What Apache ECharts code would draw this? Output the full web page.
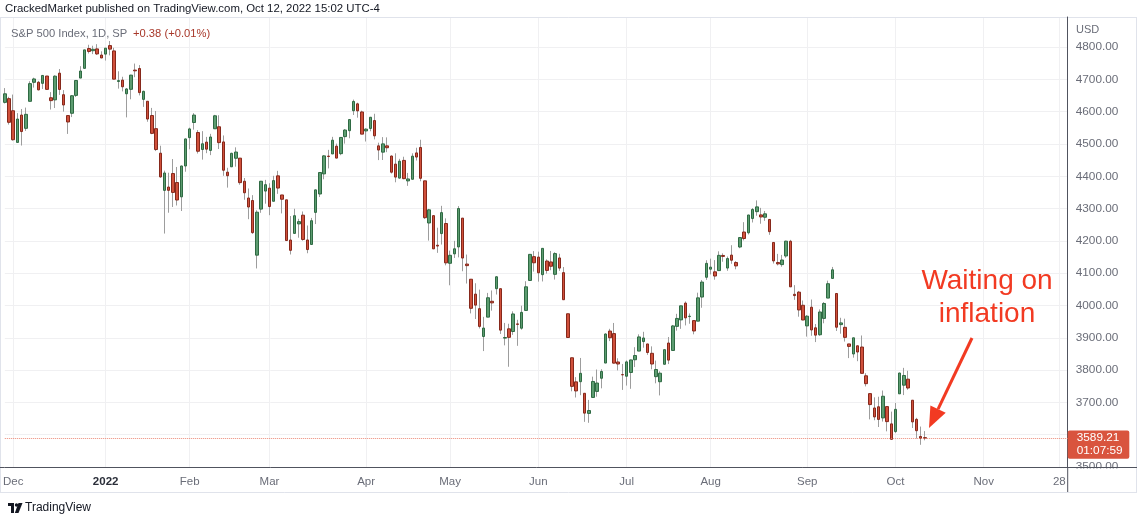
<!DOCTYPE html>
<html><head><meta charset="utf-8">
<script src="https://cdn.jsdelivr.net/npm/echarts@6/dist/echarts.min.js"></script>
<style>html,body{margin:0;padding:0;background:#fff}#c{width:1137px;height:517px}</style>
</head><body><div id="c"></div>
<script>
// ---- categories (trading days with data) ----
const dates = [
'2021-11-29','2021-11-30',
'2021-12-01','2021-12-02','2021-12-03','2021-12-06','2021-12-07','2021-12-08','2021-12-09','2021-12-10','2021-12-13','2021-12-14','2021-12-15','2021-12-16','2021-12-17','2021-12-20','2021-12-21','2021-12-22','2021-12-23','2021-12-27','2021-12-28','2021-12-29','2021-12-30','2021-12-31',
'2022-01-03','2022-01-04','2022-01-05','2022-01-06','2022-01-07','2022-01-10','2022-01-11','2022-01-12','2022-01-13','2022-01-14','2022-01-18','2022-01-19','2022-01-20','2022-01-21','2022-01-24','2022-01-25','2022-01-26','2022-01-27','2022-01-28','2022-01-31',
'2022-02-01','2022-02-02','2022-02-03','2022-02-04','2022-02-07','2022-02-08','2022-02-09','2022-02-10','2022-02-11','2022-02-14','2022-02-15','2022-02-16','2022-02-17','2022-02-18','2022-02-22','2022-02-23','2022-02-24','2022-02-25','2022-02-28',
'2022-03-01','2022-03-02','2022-03-03','2022-03-04','2022-03-07','2022-03-08','2022-03-09','2022-03-10','2022-03-11','2022-03-14','2022-03-15','2022-03-16','2022-03-17','2022-03-18','2022-03-21','2022-03-22','2022-03-23','2022-03-24','2022-03-25','2022-03-28','2022-03-29','2022-03-30','2022-03-31',
'2022-04-01','2022-04-04','2022-04-05','2022-04-06','2022-04-07','2022-04-08','2022-04-11','2022-04-12','2022-04-13','2022-04-14','2022-04-18','2022-04-19','2022-04-20','2022-04-21','2022-04-22','2022-04-25','2022-04-26','2022-04-27','2022-04-28','2022-04-29',
'2022-05-02','2022-05-03','2022-05-04','2022-05-05','2022-05-06','2022-05-09','2022-05-10','2022-05-11','2022-05-12','2022-05-13','2022-05-16','2022-05-17','2022-05-18','2022-05-19','2022-05-20','2022-05-23','2022-05-24','2022-05-25','2022-05-26','2022-05-27','2022-05-31',
'2022-06-01','2022-06-02','2022-06-03','2022-06-06','2022-06-07','2022-06-08','2022-06-09','2022-06-10','2022-06-13','2022-06-14','2022-06-15','2022-06-16','2022-06-17','2022-06-21','2022-06-22','2022-06-23','2022-06-24','2022-06-27','2022-06-28','2022-06-29','2022-06-30',
'2022-07-01','2022-07-05','2022-07-06','2022-07-07','2022-07-08','2022-07-11','2022-07-12','2022-07-13','2022-07-14','2022-07-15','2022-07-18','2022-07-19','2022-07-20','2022-07-21','2022-07-22','2022-07-25','2022-07-26','2022-07-27','2022-07-28','2022-07-29',
'2022-08-01','2022-08-02','2022-08-03','2022-08-04','2022-08-05','2022-08-08','2022-08-09','2022-08-10','2022-08-11','2022-08-12','2022-08-15','2022-08-16','2022-08-17','2022-08-18','2022-08-19','2022-08-22','2022-08-23','2022-08-24','2022-08-25','2022-08-26','2022-08-29','2022-08-30','2022-08-31',
'2022-09-01','2022-09-02','2022-09-06','2022-09-07','2022-09-08','2022-09-09','2022-09-12','2022-09-13','2022-09-14','2022-09-15','2022-09-16','2022-09-19','2022-09-20','2022-09-21','2022-09-22','2022-09-23','2022-09-26','2022-09-27','2022-09-28','2022-09-29','2022-09-30',
'2022-10-03','2022-10-04','2022-10-05','2022-10-06','2022-10-07','2022-10-10','2022-10-11','2022-10-12'
];
// ---- empty future trading days shown on the time axis ----
const futureDates = [
'2022-10-13','2022-10-14','2022-10-17','2022-10-18','2022-10-19','2022-10-20','2022-10-21','2022-10-24','2022-10-25','2022-10-26','2022-10-27','2022-10-28','2022-10-31',
'2022-11-01','2022-11-02','2022-11-03','2022-11-04','2022-11-07','2022-11-08','2022-11-09','2022-11-10','2022-11-11','2022-11-14','2022-11-15','2022-11-16','2022-11-17','2022-11-18','2022-11-21','2022-11-22','2022-11-23','2022-11-25','2022-11-28','2022-11-29','2022-11-30'
];
// ---- series values ----
const open = [
4628.75,4640.25,
4602.82,4504.73,4589.49,4548.37,4631.97,4690.86,4691.00,4687.64,4710.30,4642.99,4636.46,4719.13,4652.50,4587.90,4594.96,4650.36,4703.96,4733.99,4795.49,4788.64,4794.23,4775.21,
4778.14,4804.51,4787.99,4693.39,4697.66,4655.34,4669.14,4728.59,4733.56,4637.99,4632.24,4588.03,4547.35,4471.38,4356.32,4366.64,4408.43,4380.58,4336.19,4431.79,
4519.57,4566.39,4535.41,4482.79,4505.75,4480.02,4547.00,4553.24,4506.27,4412.61,4429.28,4455.75,4456.06,4384.57,4332.74,4324.93,4155.77,4298.38,4354.17,
4363.14,4322.56,4401.31,4342.12,4327.01,4202.66,4223.10,4252.55,4279.50,4202.75,4188.82,4288.14,4345.11,4407.34,4462.40,4469.10,4493.10,4469.98,4522.66,4541.09,4602.86,4624.20,4599.02,
4540.32,4547.97,4572.45,4494.17,4474.65,4494.15,4462.64,4437.59,4394.30,4449.12,4385.63,4390.63,4472.26,4489.17,4385.83,4255.34,4278.14,4186.52,4222.58,4253.75,
4130.61,4159.78,4181.18,4270.43,4128.17,4081.27,4035.18,3990.08,3903.95,3963.90,4013.02,4052.00,4051.98,3899.00,3927.76,3919.42,3942.94,3929.59,3984.60,4077.43,4151.09,
4149.78,4095.41,4137.57,4134.72,4096.47,4147.12,4101.65,3974.39,3838.15,3763.52,3764.05,3728.18,3665.90,3715.31,3733.89,3774.71,3821.75,3920.76,3913.00,3825.09,3785.99,
3781.00,3792.61,3831.98,3858.85,3888.26,3880.94,3851.95,3779.67,3763.99,3818.00,3883.79,3860.73,3935.32,3955.47,4007.36,3965.72,3953.22,3951.43,4026.13,4087.33,
4112.38,4104.21,4107.96,4154.85,4115.87,4155.93,4133.11,4181.02,4227.40,4225.02,4269.37,4290.46,4280.40,4273.13,4266.31,4195.08,4133.09,4126.55,4153.26,4198.74,4034.58,4041.25,4000.67,
3936.73,3994.66,3930.89,3909.43,3959.94,4022.94,4083.67,4037.12,3940.73,3932.41,3880.95,3849.91,3875.23,3871.40,3782.36,3727.14,3682.72,3686.44,3651.94,3687.01,3633.48,
3609.78,3726.46,3753.25,3771.97,3706.74,3647.51,3594.58,3590.83
];
const high = [
4672.95,4646.02,
4652.94,4595.46,4608.03,4612.60,4694.04,4705.06,4695.26,4713.57,4710.30,4660.47,4712.60,4731.99,4666.70,4587.90,4651.14,4697.67,4740.74,4791.49,4807.02,4804.06,4808.93,4786.83,
4796.64,4818.62,4797.70,4725.01,4707.95,4673.02,4714.13,4748.83,4744.13,4665.13,4632.24,4611.55,4602.11,4494.52,4417.35,4411.01,4453.23,4428.74,4432.72,4516.89,
4550.49,4595.31,4542.88,4539.66,4521.86,4531.32,4590.03,4588.92,4526.33,4426.22,4472.77,4489.55,4456.06,4394.60,4362.12,4341.51,4294.73,4385.34,4388.84,
4378.45,4401.48,4416.78,4342.12,4327.01,4276.94,4299.40,4268.28,4291.01,4247.57,4271.05,4358.90,4412.67,4465.40,4481.75,4522.00,4501.07,4520.58,4546.03,4575.65,4637.30,4627.77,4603.07,
4548.70,4583.50,4593.45,4503.94,4521.16,4520.41,4464.35,4471.00,4453.92,4460.46,4410.31,4471.03,4488.29,4512.94,4385.83,4299.02,4278.14,4240.71,4308.45,4269.68,
4169.81,4200.10,4307.66,4270.43,4157.69,4081.27,4068.82,4049.09,3964.80,4038.88,4046.46,4090.72,4051.98,3945.96,3943.42,3981.88,3955.68,3999.33,4075.14,4158.49,4168.34,
4166.54,4177.51,4142.67,4168.78,4164.86,4160.14,4119.10,3974.39,3838.15,3778.18,3837.56,3728.18,3707.71,3779.65,3801.79,3802.58,3913.65,3927.72,3945.86,3836.50,3818.99,
3829.82,3832.19,3870.91,3910.63,3918.50,3880.94,3873.41,3829.44,3796.41,3863.62,3902.44,3939.81,3974.13,3999.29,4012.44,3975.30,3953.22,4039.56,4078.95,4140.15,
4144.95,4140.47,4167.66,4161.29,4151.58,4186.62,4137.30,4211.03,4257.91,4280.47,4301.79,4325.28,4302.18,4292.53,4266.31,4195.08,4159.77,4156.56,4200.54,4203.04,4062.99,4044.98,4015.37,
3970.23,4018.43,3942.55,3987.89,4010.50,4076.81,4119.28,4037.12,3961.94,3959.14,3880.95,3900.45,3876.01,3907.07,3790.45,3727.14,3715.67,3717.53,3736.74,3687.01,3671.44,
3698.35,3791.92,3806.91,3797.93,3706.74,3652.17,3625.22,3611.11
];
const low = [
4625.26,4560.00,
4510.27,4504.73,4495.12,4540.51,4631.97,4674.52,4665.98,4670.24,4667.60,4606.52,4611.22,4651.89,4600.22,4531.10,4583.16,4645.53,4703.96,4733.99,4780.04,4778.08,4775.33,4765.75,
4758.17,4774.27,4699.44,4671.26,4662.74,4582.24,4638.27,4706.71,4650.29,4614.75,4568.70,4530.20,4477.95,4395.34,4222.62,4287.11,4304.80,4309.50,4292.46,4414.02,
4483.53,4544.32,4470.39,4451.50,4471.47,4465.40,4547.00,4484.31,4401.41,4364.84,4429.28,4429.68,4373.81,4327.22,4267.11,4221.51,4114.65,4286.83,4315.12,
4279.54,4322.56,4345.56,4284.98,4199.85,4157.87,4223.10,4209.80,4200.49,4161.72,4187.90,4251.99,4335.65,4390.57,4424.30,4469.10,4455.81,4465.17,4501.07,4517.69,4589.66,4581.32,4530.41,
4507.57,4539.21,4514.17,4450.04,4450.30,4474.60,4408.38,4381.34,4392.70,4390.77,4370.30,4390.63,4448.76,4384.47,4267.62,4200.82,4175.04,4162.90,4188.63,4124.28,
4062.51,4147.08,4148.91,4106.01,4067.91,3975.48,3958.17,3928.82,3858.87,3963.90,3983.99,4033.93,3911.91,3876.58,3810.32,3909.04,3875.13,3925.03,3984.60,4077.43,4104.88,
4073.85,4074.37,4098.67,4109.18,4080.19,4107.20,4017.17,3900.16,3734.30,3715.17,3722.30,3639.77,3636.87,3715.31,3717.69,3743.52,3821.75,3889.66,3820.14,3799.02,3738.67,
3752.10,3742.06,3809.37,3858.85,3869.34,3847.22,3802.36,3759.07,3721.56,3817.18,3818.63,3860.73,3922.03,3927.64,3938.24,3943.46,3910.74,3951.43,3992.97,4079.22,
4096.02,4079.81,4107.96,4135.42,4107.31,4128.97,4112.09,4177.26,4201.41,4219.78,4256.90,4277.77,4253.08,4261.98,4218.70,4129.86,4124.03,4119.97,4147.59,4057.66,4017.42,3965.21,3954.53,
3903.65,3906.21,3886.75,3906.03,3944.81,4022.94,4083.67,3921.07,3912.65,3888.28,3837.08,3838.50,3827.54,3789.49,3749.45,3647.47,3644.76,3623.76,3640.61,3610.40,3584.13,
3604.93,3726.46,3722.66,3739.22,3620.73,3588.10,3568.74,3582.63
];
const close = [
4655.27,4567.00,
4513.04,4577.10,4538.43,4591.67,4686.75,4701.21,4667.45,4712.02,4668.97,4634.09,4709.85,4668.67,4620.64,4568.02,4649.23,4696.56,4725.79,4791.19,4786.35,4793.06,4778.73,4766.18,
4796.56,4793.54,4700.58,4696.05,4677.03,4670.29,4713.07,4726.35,4659.03,4662.85,4577.11,4532.76,4482.73,4397.94,4410.13,4356.45,4349.93,4326.51,4431.85,4515.55,
4546.54,4589.38,4477.44,4500.53,4483.87,4521.54,4587.18,4504.08,4418.64,4401.67,4471.07,4475.01,4380.26,4348.87,4304.76,4225.50,4288.70,4384.65,4373.94,
4306.26,4386.54,4363.49,4328.87,4201.09,4170.70,4277.88,4259.52,4204.31,4173.11,4262.45,4357.86,4411.67,4463.12,4461.18,4511.61,4456.24,4520.16,4543.06,4575.52,4631.60,4602.45,4530.41,
4545.86,4582.64,4525.12,4481.15,4500.21,4488.28,4412.53,4397.45,4446.59,4392.59,4391.69,4462.21,4459.45,4393.66,4271.78,4296.12,4175.20,4183.96,4287.50,4131.93,
4155.38,4175.48,4300.17,4146.87,4123.34,3991.24,4001.05,3935.18,3930.08,4023.89,4008.01,4088.85,3923.68,3900.79,3901.36,3973.75,3941.48,3978.73,4057.84,4158.24,4132.15,
4101.23,4176.82,4108.54,4121.43,4160.68,4115.77,4017.82,3900.86,3749.63,3735.48,3789.99,3666.77,3674.84,3764.79,3759.89,3795.73,3911.74,3900.11,3821.55,3818.83,3785.38,
3825.33,3831.39,3845.08,3902.62,3899.38,3854.43,3818.80,3801.78,3790.38,3863.16,3830.85,3936.69,3959.90,3998.95,3961.63,3966.84,3921.05,4023.61,4072.43,4130.29,
4118.63,4091.19,4155.17,4151.94,4145.19,4140.06,4122.47,4210.24,4207.27,4280.15,4297.14,4305.20,4274.04,4283.74,4228.48,4137.99,4128.73,4140.77,4199.12,4057.66,4030.61,3986.16,3955.00,
3966.85,3924.26,3908.19,3979.87,4006.18,4067.36,4110.41,3932.69,3946.01,3901.35,3873.33,3899.89,3855.93,3789.93,3757.99,3693.23,3655.04,3647.29,3719.04,3640.47,3585.62,
3678.43,3790.93,3783.28,3744.52,3639.66,3612.39,3588.84,3589.21
];
// ---- tick labels ----
const tickDates = ['2021-12-01','2022-01-03','2022-02-01','2022-03-01','2022-04-01','2022-05-02','2022-06-01','2022-07-01','2022-08-01','2022-09-01','2022-10-03','2022-11-01','2022-11-28'];
const tickTexts = ['Dec','2022','Feb','Mar','Apr','May','Jun','Jul','Aug','Sep','Oct','Nov','28'];
const lastPrice = 3589.21;
const countdown = '01:07:59';

const FONT = '"Liberation Sans", Arial, sans-serif';
const UP = '#5c9c70', UPB = '#2f6a43', DN = '#d0503b', DNB = '#86281b', WICK = '#9d9d9d';
const AX = '#6a6d78', GRIDC = '#f0f0f2';

const cats = dates.concat(futureDates);
const ohlc = dates.map((d, i) => [open[i], close[i], low[i], high[i]]);
const bodies = dates.map((d, i) => [open[i], close[i], Math.min(open[i], close[i]), Math.max(open[i], close[i])]);
const tickMap = {};
tickDates.forEach((d, k) => { tickMap[cats.indexOf(d)] = tickTexts[k]; });
const isTick = (i) => tickMap[i] !== undefined;

const GL = 4.5, GR = 69.3, PR = 1137 - GR; // plot right edge
const chart = echarts.init(document.getElementById('c'), null, {renderer: 'canvas'});
const option = {
  animation: false,
  backgroundColor: '#ffffff',
  grid: {left: GL, right: GR, top: 17, bottom: 50},
  xAxis: {
    type: 'category', data: cats, boundaryGap: false,
    axisLine: {show: true, lineStyle: {color: '#50535e', width: 1}},
    axisTick: {show: false},
    axisLabel: {
      interval: (i) => isTick(i), margin: 9, color: AX, fontSize: 11.5, fontFamily: FONT,
      formatter: (v, i) => { const t = tickMap[i]; return t === '2022' ? '{b|2022}' : (t || ''); },
      rich: {b: {fontWeight: 'bold', color: '#2a2e39', fontSize: 11.5, fontFamily: FONT}}
    },
    splitLine: {show: true, interval: (i) => isTick(i), lineStyle: {color: GRIDC, width: 1}}
  },
  yAxis: {
    type: 'value', position: 'right', min: 3500, max: 4893, interval: 100,
    axisLine: {show: true, lineStyle: {color: '#50535e', width: 1}},
    axisTick: {show: false},
    axisLabel: {showMaxLabel: false, margin: 8, color: AX, fontSize: 11.8, fontFamily: FONT,
      formatter: (v) => (v === 3600 ? '' : v.toFixed(2))},
    splitLine: {show: true, lineStyle: {color: GRIDC, width: 1}}
  },
  series: [
    {
      type: 'candlestick', name: 'wick', data: ohlc, barWidth: 1, silent: true, clip: false,
      itemStyle: {color: WICK, color0: WICK, borderColor: WICK, borderColor0: WICK, borderWidth: 1}
    },
    {
      type: 'candlestick', name: 'body', data: bodies, barWidth: 3, silent: true, z: 3, clip: false,
      itemStyle: {color: UP, color0: DN, borderColor: UPB, borderColor0: DNB, borderWidth: 1},
      markLine: {
        silent: true, symbol: ['none', 'none'],
        lineStyle: {type: 'dotted', color: '#ec8a78', width: 1},
        label: {show: false},
        data: [{yAxis: lastPrice}]
      }
    }
  ]
};
chart.setOption(option);

const py = chart.convertToPixel({yAxisIndex: 0}, lastPrice);
const red = '#f23a22';
const tip = [929, 428], start = [972, 338];
const dx = tip[0] - start[0], dy = tip[1] - start[1], L = Math.hypot(dx, dy);
const ux = dx / L, uy = dy / L, px = -uy, pyy = ux;
const hl = 21, hw = 8.5;
const bc = [tip[0] - hl * ux, tip[1] - hl * uy];

chart.setOption({
  graphic: [
    {type: 'text', left: 5, top: 3, style: {text: 'CrackedMarket published on TradingView.com, Oct 12, 2022 15:02 UTC-4', fill: '#131722', font: '11.4px ' + FONT}},
    {type: 'line', shape: {x1: 0, y1: 17.5, x2: 1137, y2: 17.5}, style: {stroke: '#e0e3eb', lineWidth: 1}},
    {type: 'line', shape: {x1: 0, y1: 492.5, x2: 1137, y2: 492.5}, style: {stroke: '#e0e3eb', lineWidth: 1}},
    {type: 'line', shape: {x1: 0.5, y1: 17, x2: 0.5, y2: 492}, style: {stroke: '#e0e3eb', lineWidth: 1}},
    {type: 'line', shape: {x1: 1136.5, y1: 17, x2: 1136.5, y2: 492}, style: {stroke: '#e0e3eb', lineWidth: 1}},
    {type: 'line', shape: {x1: 0, y1: 467.5, x2: GL, y2: 467.5}, style: {stroke: '#50535e', lineWidth: 1}},
    {type: 'text', left: 11, top: 28, style: {text: 'S&P 500 Index, 1D, SP', fill: '#6a6d78', font: '11.2px ' + FONT}},
    {type: 'text', left: 133, top: 28, style: {text: '+0.38 (+0.01%)', fill: '#a8382a', font: '11.2px ' + FONT}},
    {type: 'text', left: 1076, top: 24, style: {text: 'USD', fill: '#6a6d78', font: '11px ' + FONT}},
    {type: 'rect', z: 100, shape: {x: PR + 1, y: 468.5, width: 1137 - PR - 2, height: 23.5}, style: {fill: '#ffffff'}},
    {type: 'line', z: 101, shape: {x1: PR, y1: 467, x2: PR, y2: 492}, style: {stroke: '#50535e', lineWidth: 1}},
    {type: 'line', z: 101, shape: {x1: PR, y1: 467.5, x2: 1137, y2: 467.5}, style: {stroke: '#50535e', lineWidth: 1}},
    {type: 'rect', z: 102, shape: {x: PR, y: py - 7.7, width: 61.6, height: 28.3, r: 2}, style: {fill: '#d9543e'}},
    {type: 'text', z: 103, x: PR + 9, y: py, style: {text: lastPrice.toFixed(2), fill: '#ffffff', font: '11.8px ' + FONT, textVerticalAlign: 'middle'}},
    {type: 'text', z: 103, x: PR + 9, y: py + 13, style: {text: countdown, fill: '#ffffff', font: '11.8px ' + FONT, textVerticalAlign: 'middle'}},
    {type: 'text', z: 110, x: 987, y: 281, style: {text: 'Waiting on', fill: red, font: '28px ' + FONT, textAlign: 'center', textVerticalAlign: 'middle'}},
    {type: 'text', z: 110, x: 987, y: 314, style: {text: 'inflation', fill: red, font: '28px ' + FONT, textAlign: 'center', textVerticalAlign: 'middle'}},
    {type: 'line', z: 110, shape: {x1: start[0], y1: start[1], x2: bc[0], y2: bc[1]}, style: {stroke: red, lineWidth: 3}},
    {type: 'polygon', z: 110, shape: {points: [tip, [bc[0] + hw * px, bc[1] + hw * pyy], [bc[0] - hw * px, bc[1] - hw * pyy]]}, style: {fill: red}},
    {type: 'rect', shape: {x: 8, y: 503, width: 6, height: 3}, style: {fill: '#131722'}},
    {type: 'rect', shape: {x: 11, y: 503, width: 3, height: 10}, style: {fill: '#131722'}},
    {type: 'circle', shape: {cx: 16.5, cy: 505, r: 1.7}, style: {fill: '#131722'}},
    {type: 'polygon', shape: {points: [[18.5, 503], [22.5, 503], [18.5, 513], [14.8, 513]]}, style: {fill: '#131722'}},
    {type: 'text', left: 25, top: 502, style: {text: 'TradingView', fill: '#131722', font: '500 12px ' + FONT}}
  ]
});
</script>
</body></html>
